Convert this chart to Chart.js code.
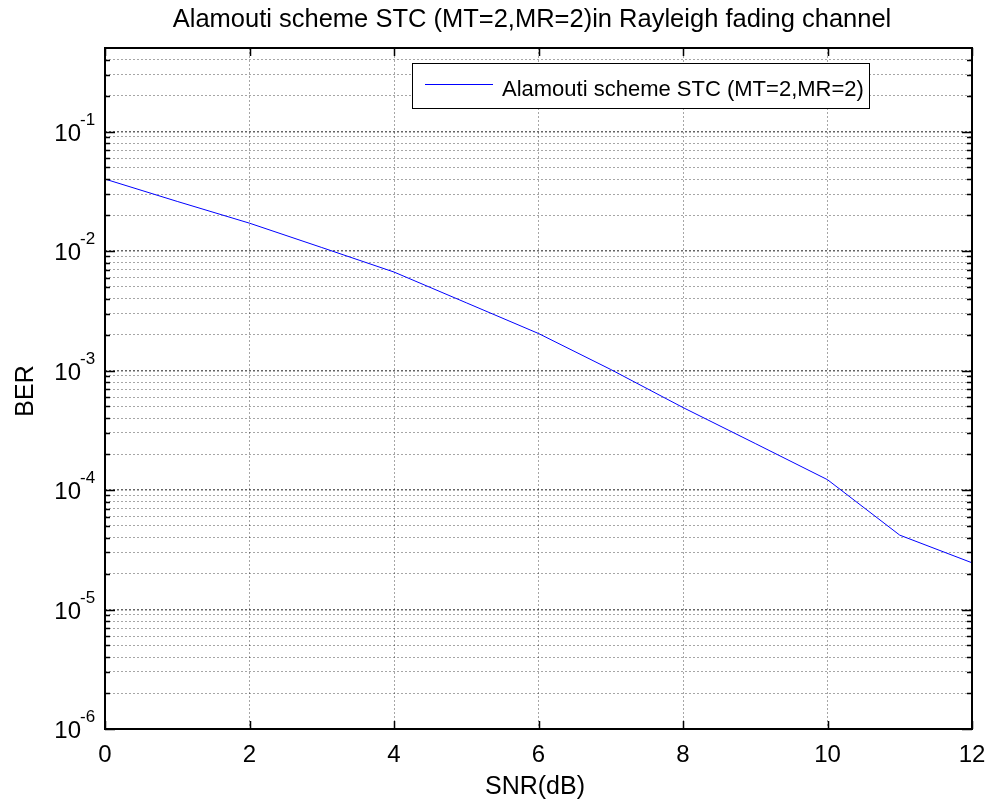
<!DOCTYPE html>
<html>
<head>
<meta charset="utf-8">
<script src="https://cdn.jsdelivr.net/npm/chart.js@4.4.1/dist/chart.umd.min.js"></script>
<style>
  html, body { margin: 0; padding: 0; background: #fff; }
  #wrap { width: 991px; height: 803px; }
</style>
</head>
<body>
<div id="wrap"><canvas id="chart-ber" width="991" height="803"></canvas></div>
<script>
// values
const snr = [0, 1, 2, 3, 4, 5, 6, 7, 8, 9, 10, 11, 12];
const ber = [0.04, 0.026, 0.0171, 0.0107, 0.00667, 0.00369, 0.00204, 0.00102, 0.00049, 0.000245, 0.000122, 0.0000419, 0.0000246];
const xTicks = [0, 2, 4, 6, 8, 10, 12];
const decades = [-6, -5, -4, -3, -2, -1];
const seriesName = 'Alamouti scheme STC (MT=2,MR=2)';
const titleText = 'Alamouti scheme STC (MT=2,MR=2)in Rayleigh fading channel';

const FONT = '"Liberation Sans", Arial, sans-serif';
const yMin = 1e-6, yMax = 0.5;

// log ticks 1..9 per decade
let yTicks = [];
decades.forEach(d => {
    for (let m = 1; m <= 9; m++) {
        const v = m * Math.pow(10, d);
        if (v < yMax - 1e-12) yTicks.push(+v.toPrecision(3));
    }
});
const isDecade = v => Math.abs(Math.log10(v) - Math.round(Math.log10(v))) < 1e-6;

const ctx = document.getElementById('chart-ber').getContext('2d');

const matlabDecor = {
    id: 'matlabDecor',
    afterDraw(chart) {
        const c = chart.ctx;
        const a = chart.chartArea;
        const xs = chart.scales.x, ys = chart.scales.y;
        c.save();
        c.strokeStyle = '#000';
        c.fillStyle = '#000';

        // inward ticks
        c.lineWidth = 1.5;
        yTicks.forEach(v => {
            const y = Math.round(ys.getPixelForValue(v)) + 0.5;
            const len = isDecade(v) ? 10 : 5;
            c.beginPath();
            c.moveTo(a.left, y); c.lineTo(a.left + len, y);
            c.moveTo(a.right, y); c.lineTo(a.right - len, y);
            c.stroke();
        });
        xTicks.forEach(v => {
            const x = Math.round(xs.getPixelForValue(v)) + 0.5;
            c.beginPath();
            c.moveTo(x, a.bottom); c.lineTo(x, a.bottom - 8);
            c.moveTo(x, a.top); c.lineTo(x, a.top + 8);
            c.stroke();
        });

        // axes box
        c.lineWidth = 2;
        c.strokeRect(a.left, a.top, a.right - a.left, a.bottom - a.top);

        // x tick labels
        c.font = '24px ' + FONT;
        c.textAlign = 'center';
        c.textBaseline = 'alphabetic';
        xTicks.forEach(v => {
            c.fillText(String(v), xs.getPixelForValue(v), 762);
        });

        // y tick labels 10^d
        decades.forEach(d => {
            const y = ys.getPixelForValue(Math.pow(10, d));
            c.font = '24px ' + FONT;
            c.textAlign = 'right';
            c.fillText('10', 81, y + 9);
            c.font = '17px ' + FONT;
            c.textAlign = 'left';
            c.fillText(String(d), 80, y - 7);
        });

        // axis titles
        c.font = '25px ' + FONT;
        c.textAlign = 'center';
        c.fillText('SNR(dB)', 535, 794);
        c.save();
        c.translate(33, 391);
        c.rotate(-Math.PI / 2);
        c.fillText('BER', 0, 0);
        c.restore();

        // title
        c.font = '25.5px ' + FONT;
        c.fillText(titleText, 532, 27);

        // legend
        const lx = 412, ly = 63, lw = 457, lh = 45;
        c.fillStyle = '#fff';
        c.fillRect(lx, ly, lw, lh);
        c.lineWidth = 1;
        c.strokeStyle = '#000';
        c.strokeRect(lx + 0.5, ly + 0.5, lw, lh);
        c.strokeStyle = '#0000ff';
        c.beginPath();
        c.moveTo(425, 84.5); c.lineTo(493, 84.5);
        c.stroke();
        c.fillStyle = '#000';
        c.font = '22px ' + FONT;
        c.textAlign = 'left';
        c.fillText(seriesName, 502, 96);
        c.restore();
    }
};

const config = {
    type: 'line',
    data: {
        datasets: [{
            label: seriesName,
            data: snr.map((x, i) => ({ x: x, y: ber[i] })),
            borderColor: '#0000ff',
            borderWidth: 1,
            pointRadius: 0,
            tension: 0,
            fill: false
        }]
    },
    options: {
        responsive: false,
        animation: false,
        layout: { padding: { left: 105, right: 19, top: 48, bottom: 74 } },
        plugins: {
            legend: { display: false },
            title: { display: false },
            tooltip: { enabled: false }
        },
        scales: {
            x: {
                type: 'linear',
                min: 0,
                max: 12,
                afterBuildTicks: s => { s.ticks = xTicks.map(v => ({ value: v })); },
                ticks: { display: false },
                grid: { color: 'rgba(0,0,0,0.35)', lineWidth: 1, drawTicks: false },
                border: { display: false, dash: [2, 2] }
            },
            y: {
                type: 'logarithmic',
                min: yMin,
                max: yMax,
                afterBuildTicks: s => { s.ticks = yTicks.map(v => ({ value: v })); },
                ticks: { display: false },
                grid: {
                    color: c => isDecade(c.tick.value) ? 'rgba(0,0,0,0.6)' : 'rgba(0,0,0,0.35)',
                    lineWidth: c => isDecade(c.tick.value) ? 1.5 : 1,
                    drawTicks: false
                },
                border: { display: false, dash: [2, 2] }
            }
        }
    },
    plugins: [matlabDecor]
};
new Chart(ctx, config);
</script>
</body>
</html>
